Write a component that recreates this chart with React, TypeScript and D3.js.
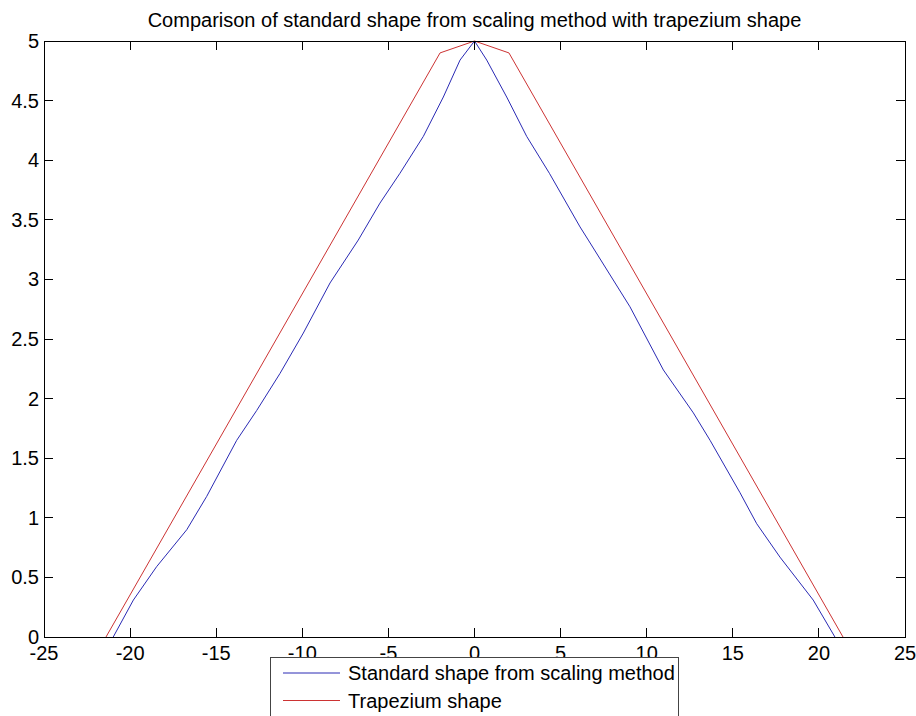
import React from "react";
import * as d3 from "d3";

const titleText = "Comparison of standard shape from scaling method with trapezium shape";
const xTicks = [-25, -20, -15, -10, -5, 0, 5, 10, 15, 20, 25];
const yTicks = [0, 0.5, 1, 1.5, 2, 2.5, 3, 3.5, 4, 4.5, 5];
const yTickLabels = ["0", "0.5", "1", "1.5", "2", "2.5", "3", "3.5", "4", "4.5", "5"];

const standardX = [-20.98, -19.81, -18.46, -16.71, -15.55, -13.81, -12.65, -11.3, -9.94, -8.39, -6.75, -5.49, -4.33, -2.97, -1.81, -0.84, 0,
  0.71, 1.87, 3.03, 4.35, 6.13, 6.61, 9.03, 10.97, 12.71, 13.68, 15.42, 16.39, 17.74, 19.67, 20.93];
const standardY = [0, 0.31, 0.59, 0.9, 1.18, 1.65, 1.9, 2.21, 2.55, 2.97, 3.33, 3.64, 3.89, 4.2, 4.53, 4.84, 5,
  4.84, 4.53, 4.2, 3.89, 3.44, 3.33, 2.77, 2.24, 1.88, 1.65, 1.21, 0.95, 0.67, 0.31, 0];

const trapX = [-21.4, -2, 0, 2, 21.4];
const trapY = [0, 4.9, 5, 4.9, 0];

const legendLabels = ["Standard shape from scaling method", "Trapezium shape"];
const colors = ["#2a2ab4", "#cc3333"];

export default function App() {
  const W = 916, H = 716;
  const left = 44, right = 905, top = 41, bottom = 637;
  const x = d3.scaleLinear().domain([-25, 25]).range([left, right]);
  const y = d3.scaleLinear().domain([0, 5]).range([bottom, top]);
  const line = d3.line<[number, number]>().x(d => x(d[0])).y(d => y(d[1]));
  const stdPts: [number, number][] = standardX.map((v, i) => [v, standardY[i]]);
  const trapPts: [number, number][] = trapX.map((v, i) => [v, trapY[i]]);
  const font = "'Liberation Sans', Arial, sans-serif";
  const tl = 9;
  return (
    <svg width={W} height={H} style={{ position: "absolute", left: 0, top: 0, display: "block", background: "#fff" }}
      fontFamily={font}>
      <rect x={0} y={0} width={W} height={H} fill="#fff" />
      <text x={(left + right) / 2} y={26.5} textAnchor="middle" fontSize={20} fill="#000">{titleText}</text>
      <path d={line(stdPts) || ""} fill="none" stroke={colors[0]} strokeWidth={1} />
      <path d={line(trapPts) || ""} fill="none" stroke={colors[1]} strokeWidth={1} />
      <rect x={left} y={top} width={right - left} height={bottom - top} fill="none" stroke="#000" strokeWidth={1} shapeRendering="crispEdges" />
      {xTicks.map(t => (
        <g key={"x" + t}>
          <line x1={x(t)} x2={x(t)} y1={bottom} y2={bottom - tl} stroke="#000" shapeRendering="crispEdges" />
          <line x1={x(t)} x2={x(t)} y1={top} y2={top + tl} stroke="#000" shapeRendering="crispEdges" />
          <text x={x(t)} y={660} textAnchor="middle" fontSize={20} fill="#000">{String(t)}</text>
        </g>
      ))}
      {yTicks.map((t, i) => (
        <g key={"y" + t}>
          <line x1={left} x2={left + tl} y1={y(t)} y2={y(t)} stroke="#000" shapeRendering="crispEdges" />
          <line x1={right} x2={right - tl} y1={y(t)} y2={y(t)} stroke="#000" shapeRendering="crispEdges" />
          <text x={39} y={y(t) + 7} textAnchor="end" fontSize={20} fill="#000">{yTickLabels[i]}</text>
        </g>
      ))}
      <g>
        <rect x={270.5} y={657.5} width={408} height={75} fill="#fff" stroke="#444" strokeWidth={1} shapeRendering="crispEdges" />
        {legendLabels.map((lab, i) => (
          <g key={lab}>
            <line x1={283} x2={340} y1={673 + i * 27.5} y2={673 + i * 27.5} stroke={colors[i]} strokeWidth={1} />
            <text x={348} y={680 + i * 27.5} fontSize={20} fill="#000">{lab}</text>
          </g>
        ))}
      </g>
    </svg>
  );
}
